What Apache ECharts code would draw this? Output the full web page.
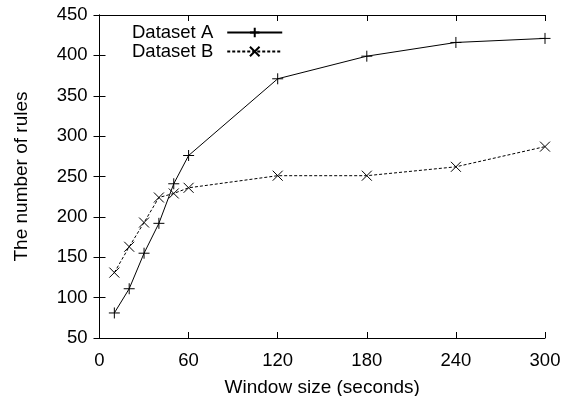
<!DOCTYPE html>
<html><head><meta charset="utf-8">
<script src="https://cdn.jsdelivr.net/npm/echarts@6/dist/echarts.min.js"></script>
<style>html,body{margin:0;padding:0;background:#fff}#c{width:563px;height:396px}</style>
</head><body><div id="c"></div>
<script>
const windowSizes = [10, 20, 30, 40, 50, 60, 120, 180, 240, 300];
const datasetA = [81, 111, 155, 192, 241, 276, 371, 399, 416, 421];
const datasetB = [131, 163, 193, 224, 229, 236, 251, 251, 262, 287];
const xTicks = {min: 0, max: 300, interval: 60};
const yTicks = {min: 50, max: 450, interval: 50};

const FONT = 'Liberation Sans';
const plusPath = 'path://M0,5L10,5M5,0L5,10';
const crossPath = 'path://M0,0L10,10M10,0L0,10';

const chart = echarts.init(document.getElementById('c'), null, {renderer: 'canvas'});
const axisCommon = {
  axisLine: {show: true, lineStyle: {color: '#000', width: 1}},
  axisTick: {show: true, inside: true, length: 6, lineStyle: {color: '#000'}},
  splitLine: {show: false}
};
chart.setOption({
  animation: false,
  backgroundColor: '#fff',
  grid: {left: 99.5, right: 18, top: 15, bottom: 58, containLabel: false, outerBoundsMode: 'none'},
  legend: {
    orient: 'vertical', left: 132, top: 23, align: 'right', padding: 0,
    itemWidth: 55, itemHeight: 12, itemGap: 0,
    textStyle: {fontFamily: FONT, fontSize: 18.5, lineHeight: 17.5, color: '#000', padding: [0, 9, 0, 0]},
    data: ['Dataset A', 'Dataset B']
  },
  xAxis: [
    Object.assign({type: 'value', position: 'bottom', min: xTicks.min, max: xTicks.max, interval: xTicks.interval,
      name: 'Window size (seconds)', nameLocation: 'middle', nameGap: 40,
      nameTextStyle: {fontFamily: FONT, fontSize: 19, color: '#000'},
      axisLabel: {fontFamily: FONT, fontSize: 18.5, color: '#000', margin: 13}}, axisCommon),
    Object.assign({type: 'value', position: 'top', min: xTicks.min, max: xTicks.max, interval: xTicks.interval,
      axisLabel: {show: false}}, axisCommon)
  ],
  yAxis: [
    Object.assign({type: 'value', position: 'left', min: yTicks.min, max: yTicks.max, interval: yTicks.interval,
      name: 'The number of rules', nameLocation: 'middle', nameGap: 68,
      nameTextStyle: {fontFamily: FONT, fontSize: 19, color: '#000'},
      axisLabel: {fontFamily: FONT, fontSize: 18.5, color: '#000', margin: 12, padding: [4, 0, 0, 0]}}, axisCommon),
    Object.assign({type: 'value', position: 'right', min: yTicks.min, max: yTicks.max, interval: yTicks.interval,
      axisLabel: {show: false}}, axisCommon)
  ],
  series: [
    {name: 'Dataset A', type: 'line', data: windowSizes.map((x, i) => [x, datasetA[i]]),
      symbol: plusPath, symbolSize: 11, showAllSymbol: true,
      lineStyle: {color: '#000', width: 1, type: 'solid'},
      itemStyle: {color: '#000', borderColor: '#000', borderWidth: 1}},
    {name: 'Dataset B', type: 'line', data: windowSizes.map((x, i) => [x, datasetB[i]]),
      symbol: crossPath, symbolSize: 10, showAllSymbol: true,
      lineStyle: {color: '#000', width: 1, type: [3, 2]},
      itemStyle: {color: '#000', borderColor: '#000', borderWidth: 1}}
  ]
});
</script></body></html>
